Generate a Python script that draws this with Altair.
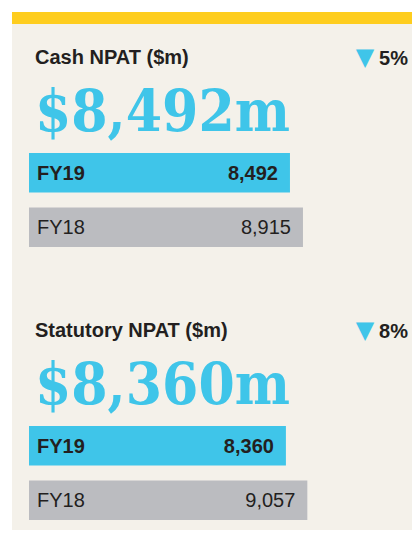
import altair as alt
import pandas as pd

# ---- data ----
sections = ["Cash NPAT ($m)", "Statutory NPAT ($m)"]
years = ["FY19", "FY18"]
values_fy19 = [8492, 8360]
values_fy18 = [8915, 9057]
pct_change = [-5, -8]

BLUE = "#3FC5E9"
GREY = "#BBBCC0"
BEIGE = "#F4F1EA"
YELLOW = "#FECD1E"
INK = "#231F20"

rows = []
for s, a, b in zip(sections, values_fy19, values_fy18):
    rows.append({"section": s, "year": years[0], "value": a, "slot": f"{s}|{years[0]}"})
    rows.append({"section": s, "year": years[1], "value": b, "slot": f"{s}|{years[1]}"})
bars_df = pd.DataFrame(rows)
bars_df["label"] = bars_df["value"].map(lambda v: f"{v:,}")

head_df = pd.DataFrame({
    "section": sections,
    "slot": [f"{s}|{years[0]}" for s in sections],
    "headline": [f"${v:,}m" for v in values_fy19],
    "pct": [f"{abs(p)}%" for p in pct_change],
    "arrow": ["\u25BC" if p < 0 else "\u25B2" for p in pct_change],
})

# row order: two bars, three empty rows holding the next header, two bars
slot_domain = [f"{sections[0]}|{years[0]}", f"{sections[0]}|{years[1]}",
               "gap1", "gap2", "gap3",
               f"{sections[1]}|{years[0]}", f"{sections[1]}|{years[1]}"]

y_slot = alt.Y("slot:N", axis=None,
               scale=alt.Scale(type="band", domain=slot_domain, range=[129, 496.1],
                               paddingInner=0.2766, paddingOuter=0))
x_val = alt.X("value:Q", axis=None,
              scale=alt.Scale(domain=[0, 10000], range=[17, 324.3], nice=False, zero=True))
color = alt.Color("year:N", scale=alt.Scale(domain=years, range=[BLUE, GREY]), legend=None)

b = alt.Chart(bars_df)
h = alt.Chart(head_df)
one = alt.Data(values=[{"k": 1}])

layers = []
layers.append(alt.Chart(one).mark_rect(color=YELLOW).encode(
    x=alt.value(0), x2=alt.value(400), y=alt.value(-12), y2=alt.value(0)))
layers.append(b.mark_bar().encode(x=x_val, y=y_slot, color=color))
for yr, weight in [(years[0], "bold"), (years[1], "normal")]:
    s = b.transform_filter(alt.datum.year == yr)
    layers.append(s.mark_text(align="left", baseline="alphabetic", dx=8, dy=7, fontSize=20,
                              font="Liberation Sans", fontWeight=weight, color=INK).encode(
        x=alt.value(17), y=y_slot, text="year:N"))
    layers.append(s.mark_text(align="right", baseline="alphabetic", dx=-12, dy=7, fontSize=20,
                              font="Liberation Sans", fontWeight=weight, color=INK).encode(
        x=x_val, y=y_slot, text="label:N"))

layers.append(h.mark_text(align="left", baseline="alphabetic", dy=-109, fontSize=20,
                          font="Liberation Sans", fontWeight="bold", color=INK).encode(
    x=alt.value(23), y=y_slot, text="section:N"))
layers.append(h.mark_text(align="left", baseline="alphabetic", dy=-42, fontSize=58,
                          font="DejaVu Serif Condensed, DejaVu Serif", fontWeight="bold",
                          color=BLUE).encode(
    x=alt.value(23), y=y_slot, text="headline:N"))
layers.append(h.mark_text(align="right", baseline="alphabetic", dy=-108, fontSize=20,
                          font="Liberation Sans", fontWeight="bold", color=INK).encode(
    x=alt.value(396), y=y_slot, text="pct:N"))
layers.append(h.mark_text(align="center", baseline="alphabetic", dy=-108, fontSize=24,
                          font="DejaVu Sans", color=BLUE).encode(
    x=alt.value(353), y=y_slot, text="arrow:N"))

chart = alt.layer(*layers).resolve_scale(color="independent").properties(
    width=400, height=506,
    padding={"left": 4, "top": 16, "right": 0, "bottom": 0},
    autosize=alt.AutoSizeParams(type="none"),
    background="white",
).configure_view(fill=BEIGE, stroke=None)

chart.save("out.html", embed_options={"renderer": "svg", "actions": False})
